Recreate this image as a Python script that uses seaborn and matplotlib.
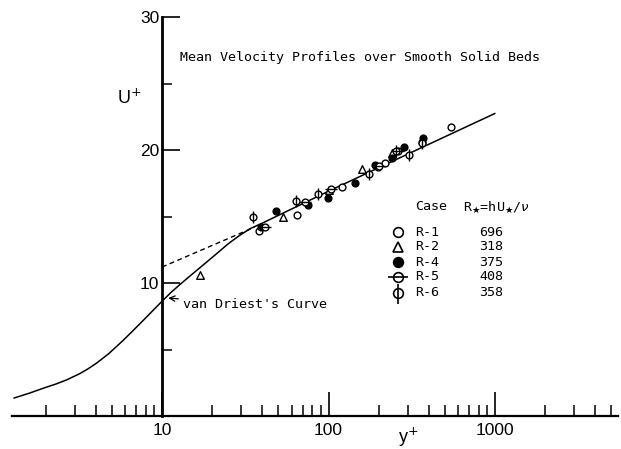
import matplotlib
matplotlib.use("Agg")
import matplotlib.pyplot as plt
import seaborn as sns
import pandas as pd
from matplotlib.ticker import LogLocator, NullFormatter

# ---------------- data ----------------
curve_yplus = [1.29, 1.6, 1.98, 2.3, 2.68, 3.2, 3.6, 4.05, 4.8, 5.86, 6.7, 7.73,
               8.8, 9.95, 11.3, 12.8, 14.8, 16.9, 20.8, 25, 29.4, 34, 40,
               100, 300, 1000]
curve_uplus = [1.35, 1.72, 2.13, 2.4, 2.72, 3.18, 3.55, 3.98, 4.7, 5.7, 6.42, 7.2,
               7.92, 8.6, 9.28, 9.88, 10.55, 11.15, 12.1, 12.95, 13.6, 14.1, 14.5,
               16.9, 19.7, 22.75]

loglaw_yplus = [10, 36]
loglaw_uplus = [11.2, 14.2]

r1_y = [38, 64.4, 120, 198, 219, 366, 545]
r1_u = [13.9, 15.1, 17.2, 18.7, 19.0, 20.6, 21.7]

r2_y = [16.9, 53.6, 101, 160, 242]
r2_u = [10.6, 15.0, 17.0, 18.6, 19.75]

r4_y = [39.5, 48.2, 75, 99.5, 144, 190, 240, 285, 371]
r4_u = [14.2, 15.4, 15.9, 16.4, 17.5, 18.9, 19.4, 20.2, 20.9]

r5_y = [41.3, 72, 104, 200, 262]
r5_u = [14.2, 16.1, 17.1, 18.8, 19.9]

r6_y = [35.3, 63.8, 86.5, 176, 253, 305, 366]
r6_u = [15.0, 16.2, 16.7, 18.2, 19.9, 19.6, 20.5]

cases = ["R-1", "R-2", "R-4", "R-5", "R-6"]
rstar = ["696", "318", "375", "408", "358"]

x_major = [10, 100, 1000]
x_major_labels = ["10", "100", "1000"]
y_major = [10, 20, 30]
y_minor = [5, 15, 25]

# ---------------- figure ----------------
sns.set_style("ticks")
plt.rcParams["font.family"] = ["Liberation Sans", "DejaVu Sans"]
plt.rcParams["text.color"] = "black"
plt.rcParams["xtick.color"] = "black"
plt.rcParams["ytick.color"] = "black"
plt.rcParams["axes.edgecolor"] = "black"
MONO = ["DejaVu Sans Mono", "DejaVu Sans"]

W, H = 621, 449
fig = plt.figure(figsize=(W / 100, H / 100), dpi=100)
ax = fig.add_axes([12 / W, 33 / H, 606 / W, 399 / H])
ax.set_xscale("log")
ax.set_xlim(1.256, 5480)
ax.set_ylim(0, 30)
ax.set_facecolor("white")

curve = pd.DataFrame({"y": curve_yplus, "u": curve_uplus})
sns.lineplot(data=curve, x="y", y="u", ax=ax, color="black", lw=1.1,
             sort=False, estimator=None, clip_on=False)
loglaw = pd.DataFrame({"y": loglaw_yplus, "u": loglaw_uplus})
sns.lineplot(data=loglaw, x="y", y="u", ax=ax, color="black", lw=1.0,
             linestyle=(0, (3.5, 2.5)), sort=False, estimator=None)

S = 24
sns.scatterplot(x=r1_y, y=r1_u, ax=ax, marker="o", s=S, facecolor="white",
                edgecolor="black", linewidth=1.0, zorder=3)
sns.scatterplot(x=r2_y, y=r2_u, ax=ax, marker="^", s=30, facecolor="white",
                edgecolor="black", linewidth=1.0, zorder=3)
sns.scatterplot(x=r4_y, y=r4_u, ax=ax, marker="o", s=S, facecolor="black",
                edgecolor="black", linewidth=1.0, zorder=3)
sns.scatterplot(x=r5_y, y=r5_u, ax=ax, marker="o", s=S, facecolor="white",
                edgecolor="black", linewidth=1.0, zorder=3)
sns.scatterplot(x=r5_y, y=r5_u, ax=ax, marker="_", s=70, color="black",
                linewidth=1.0, zorder=4)
sns.scatterplot(x=r6_y, y=r6_u, ax=ax, marker="o", s=S, facecolor="white",
                edgecolor="black", linewidth=1.0, zorder=3)
sns.scatterplot(x=r6_y, y=r6_u, ax=ax, marker="|", s=70, color="black",
                linewidth=1.0, zorder=4)

# ---------------- axes styling ----------------
for s in ("top", "right"):
    ax.spines[s].set_visible(False)
ax.spines["left"].set_position(("data", 10))
ax.spines["left"].set_linewidth(2.0)
ax.spines["left"].set_bounds(0, 30)
ax.spines["bottom"].set_linewidth(1.6)

ax.set_yticks(y_major)
ax.set_yticklabels([str(v) for v in y_major])
ax.set_yticks(y_minor, minor=True)
ax.set_xticks(x_major)
ax.set_xticklabels(x_major_labels)
ax.xaxis.set_minor_locator(LogLocator(base=10, subs=range(2, 10)))
ax.xaxis.set_minor_formatter(NullFormatter())

ax.tick_params(axis="x", which="major", direction="in", length=17, width=1.2,
               pad=5, labelsize=12.5, colors="black")
ax.tick_params(axis="x", which="minor", direction="in", length=8, width=1.1,
               colors="black")
ax.tick_params(axis="y", which="major", direction="in", length=13, width=1.2,
               pad=2, labelsize=12.5, colors="black")
ax.tick_params(axis="y", which="minor", direction="in", length=7, width=1.1,
               colors="black")
ax.set_xlabel("")
ax.set_ylabel("")


def fx(px):
    return px / W


def fy(py):
    return 1 - py / H


fig.text(fx(129), fy(98), "U$^{+}$", fontsize=13, ha="center", va="center")
fig.text(fx(408), fy(437), "y$^{+}$", fontsize=13, ha="center", va="center")

fig.text(fx(180), fy(58), "Mean Velocity Profiles over Smooth Solid Beds",
         fontsize=9.6, family=MONO, ha="left", va="center")

ax.annotate("van Driest's Curve", xy=(10.9, 8.87), xycoords="data",
            xytext=(fx(183), fy(305)), textcoords="figure fraction",
            fontsize=9.6, family=MONO, ha="left", va="center",
            arrowprops=dict(arrowstyle="->", lw=0.9, color="black",
                            shrinkA=1, shrinkB=0))

# ---------------- legend table ----------------
fig.text(fx(415), fy(207), "Case", fontsize=9.6, family=MONO, ha="left", va="center")
fig.text(fx(463), fy(207), r"R$_{\bigstar}$=hU$_{\bigstar}$/$\nu$", fontsize=9.6,
         family=MONO, ha="left", va="center")
row_y = [232, 247, 262, 277, 293]
for case, rs, py in zip(cases, rstar, row_y):
    fig.text(fx(415), fy(py), case, fontsize=9.6, family=MONO, ha="left", va="center")
    fig.text(fx(479), fy(py), rs, fontsize=9.6, family=MONO, ha="left", va="center")

mk = dict(transform=fig.transFigure, clip_on=False, color="black", linestyle="none")
ax.plot([fx(398)], [fy(row_y[0])], marker="o", ms=7, mfc="white", mew=1.2, **mk)
ax.plot([fx(398)], [fy(row_y[1])], marker="^", ms=7.5, mfc="white", mew=1.2, **mk)
ax.plot([fx(398)], [fy(row_y[2])], marker="o", ms=7, mfc="black", mew=1.2, **mk)
ax.plot([fx(398)], [fy(row_y[3])], marker="o", ms=7, mfc="white", mew=1.2, **mk)
ax.plot([fx(398)], [fy(row_y[3])], marker="_", ms=15, mew=1.2, **mk)
ax.plot([fx(398)], [fy(row_y[4])], marker="o", ms=7, mfc="white", mew=1.2, **mk)
ax.plot([fx(398)], [fy(row_y[4] + 1)], marker="|", ms=15, mew=1.2, **mk)

fig.savefig("out.png", dpi=100, facecolor="white")
